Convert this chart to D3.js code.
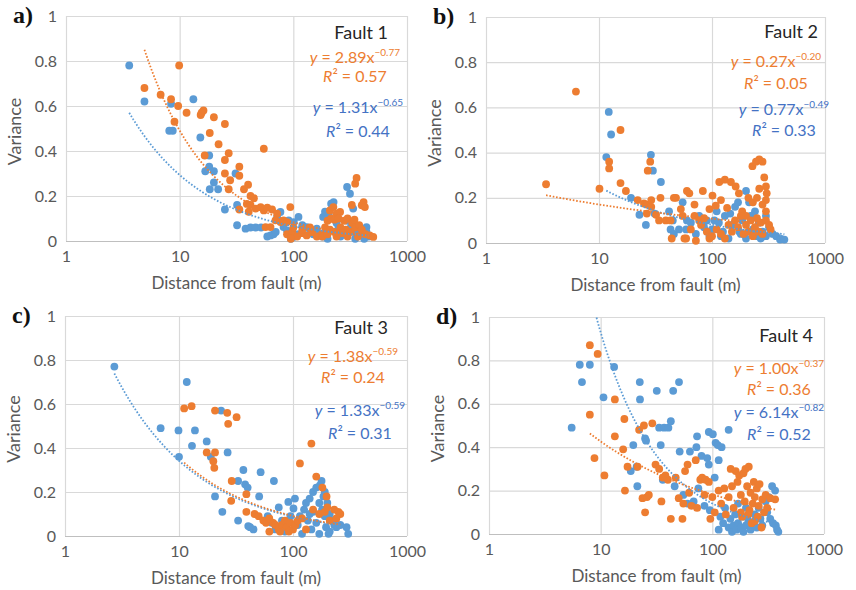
<!DOCTYPE html>
<html>
<head>
<meta charset="utf-8">
<script src="https://cdn.jsdelivr.net/npm/d3@7"></script>
<style>
  body { margin: 0; background: #fff; }
  text { font-family: Lato, "Open Sans", sans-serif; }
</style>
</head>
<body>
<div id="chart"></div>
<script>
// ---- data: [distance (m), variance] ----
var fault1Blue = [[3.6,.78],[4.9,.62],[8.4,.61],[8.1,.49],[8.7,.49],[13.2,.63],[15.2,.46],[18.2,.38],[18.2,.33],[16.8,.31],[20,.31],[20,.26],[18.4,.23],[21.8,.23],[31,.30],[25,.14],[32,.16],[32,.07],[38,.055],[42,.06],[46.6,.06],[52,.06],[59,.02],[63,.025],[67,.03],[70,.04],[72,.107],[77,.129],[82,.062],[88,.047],[91,.092],[100,.018],[101,.084],[111,.107],[120,.07],[131,.062],[150,.03],[161,.055],[172,.03],[183,.107],[190,.13],[205,.12],[215,.166],[226,.173],[235,.04],[250,.06],[260,.02],[280,.03],[297,.24],[315,.21],[336,.144],[350,.01],[380,.05],[400,.03],[440,.062],[440,.04],[460,.02],[200,.01],[240,.08],[300,.09],[320,.06],[140,.05],[110,.03],[95,.01],[180,.02],[270,.05],[360,.03],[420,.01]];
var fault1Orange = [[4.9,.68],[6.8,.65],[8.4,.63],[9.0,.53],[9.7,.60],[9.9,.78],[11.5,.57],[15.3,.56],[15.6,.57],[16.2,.58],[20,.55],[18.4,.48],[22,.43],[25,.52],[16.6,.38],[27,.39],[25,.36],[25,.30],[27.8,.27],[27,.23],[33.5,.33],[33.5,.29],[40,.25],[36.8,.23],[42,.20],[45,.19],[39,.165],[33.5,.14],[40.5,.13],[55,.41],[42,.16],[46.6,.144],[51.6,.15],[55,.136],[59,.148],[65,.14],[72,.122],[94,.151],[69.6,.092],[77,.084],[82,.092],[88,.084],[57,.062],[63,.062],[88,.03],[98,.04],[108,.02],[119,.035],[131,.025],[146,.04],[161,.02],[178,.03],[210,.136],[225,.151],[240,.122],[258,.129],[200,.09],[215,.1],[230,.095],[250,.1],[280,.09],[300,.1],[330,.08],[345,.095],[415,.173],[400,.159],[426,.151],[360,.28],[350,.255],[327,.16],[470,.025],[505,.018],[190,.06],[210,.05],[230,.04],[260,.06],[290,.05],[320,.04],[350,.06],[380,.07],[400,.05],[430,.03],[180,.02],[240,.02],[300,.02],[370,.02],[200,.03],[270,.035],[100,.06],[120,.05],[140,.06],[95,.01]];

var fault2Blue = [[11.6,.38],[12.2,.58],[12.8,.48],[19.2,.20],[22.8,.125],[26,.08],[28.8,.39],[30,.32],[31,.13],[35.3,.27],[41.7,.14],[43,.06],[45,.10],[46,.04],[51,.06],[55,.18],[59,.06],[65,.09],[72,.04],[77,.12],[85,.07],[90,.10],[95,.03],[100,.06],[110,.14],[115,.09],[125,.05],[130,.12],[140,.02],[150,.08],[160,.16],[170,.18],[175,.05],[185,.10],[200,.23],[200,.02],[213,.18],[220,.12],[230,.06],[250,.03],[260,.09],[280,.05],[300,.12],[320,.07],[344,.04],[370,.03],[400,.015],[410,.018],[437,.015],[120,.03],[180,.04],[240,.14],[270,.02],[300,.03],[105,.1],[145,.13],[60,.1]];
var fault2Orange = [[3.4,.26],[6.25,.67],[10.1,.24],[12.3,.36],[12.3,.33],[15.5,.50],[15.5,.265],[17.3,.23],[22,.19],[25,.175],[26.5,.17],[26.5,.13],[27,.32],[28.4,.36],[29,.19],[29,.16],[32,.125],[34,.10],[35,.2],[39,.10],[43,.10],[44,.02],[46,.2],[48,.2],[53,.15],[55,.12],[57,.02],[59,.02],[60,.23],[63,.22],[70,.17],[72,.01],[77,.1],[83,.23],[95,.15],[95,.02],[101,.21],[108,.165],[116,.27],[120,.19],[130,.28],[136,.155],[147,.27],[162,.25],[173,.22],[185,.14],[200,.12],[228,.34],[245,.36],[262,.37],[280,.36],[262,.24],[290,.29],[300,.25],[300,.19],[305,.22],[300,.14],[80,.08],[90,.05],[100,.03],[110,.06],[120,.04],[130,.02],[140,.08],[150,.05],[160,.1],[170,.07],[180,.12],[190,.04],[200,.08],[210,.05],[220,.1],[230,.03],[240,.07],[250,.11],[260,.05],[270,.09],[280,.04],[300,.1],[320,.08],[330,.06],[70,.12],[65,.06],[85,.11],[210,.2],[230,.18],[250,.2],[280,.17]];

var fault3Blue = [[2.71,.77],[6.9,.49],[9.9,.48],[10,.36],[11.7,.70],[13,.41],[13.8,.48],[17.5,.43],[19,.36],[20.7,.18],[23.4,.57],[24,.11],[26.7,.38],[33,.07],[33,.25],[36.7,.30],[38,.235],[40,.22],[40.5,.045],[42,.04],[45,.03],[50.5,.18],[52,.29],[60,.09],[65,.06],[68,.25],[70,.03],[75,.13],[80,.07],[85,.02],[91,.155],[95,.09],[101,.125],[104,.17],[110,.05],[115,.09],[120,.01],[125,.12],[130,.15],[135,.07],[140,.17],[145,.03],[150,.2],[150,.11],[160,.22],[160,.06],[172,.23],[178,.25],[170,.01],[180,.12],[185,.18],[190,.09],[195,.04],[200,.15],[205,.01],[210,.1],[220,.07],[230,.05],[240,.04],[260,.05],[295,.04],[305,.01],[170,.15],[190,.2],[140,.1],[210,.02]];
var fault3Orange = [[11.1,.58],[12.9,.59],[17.5,.38],[20,.34],[20.4,.31],[20.7,.57],[20.7,.38],[26.5,.56],[27,.51],[28.7,.16],[29,.25],[32,.54],[39,.19],[39,.11],[46,.10],[50,.09],[55,.07],[58,.06],[62,.02],[62,.08],[67,.06],[70,.05],[75,.03],[77,.02],[80,.05],[85,.07],[88,.04],[92,.02],[95,.06],[100,.03],[105,.05],[110,.07],[115,.33],[120,.08],[130,.03],[145,.42],[150,.12],[160,.27],[170,.1],[181,.22],[190,.11],[197,.18],[200,.13],[210,.07],[230,.12],[250,.11],[260,.10],[240,.08]];

var fault4Blue = [[5.5,.49],[6.5,.78],[8.0,.78],[6.8,.70],[10.6,.63],[13.2,.77],[18.6,.29],[19.6,.41],[21,.31],[21.3,.22],[22.4,.70],[22.5,.62],[25,.44],[25.5,.43],[31.8,.66],[33.4,.49],[34.5,.41],[36,.25],[37,.49],[40.4,.49],[42.5,.52],[44.6,.66],[46,.22],[50.3,.70],[51,.38],[55,.18],[60,.14],[63,.38],[68,.15],[72,.40],[73,.45],[75,.21],[80,.36],[85,.13],[90,.35],[93,.32],[93,.47],[95,.11],[101,.46],[105,.26],[107,.42],[112,.41],[114,.34],[114,.02],[118,.08],[121,.40],[125,.05],[130,.12],[140,.48],[140,.03],[145,.07],[150,.01],[155,.04],[160,.09],[165,.02],[170,.05],[180,.03],[185,.08],[190,.01],[200,.04],[210,.06],[220,.02],[230,.05],[240,.09],[250,.03],[260,.12],[270,.07],[280,.04],[300,.15],[310,.1],[330,.07],[343,.22],[350,.05],[365,.20],[370,.04],[380,.02],[390,.01],[170,.14],[200,.12],[320,.17]];
var fault4Orange = [[8.0,.87],[9.4,.83],[8.0,.55],[8.8,.35],[10.8,.27],[13.4,.62],[13.4,.45],[15.9,.39],[16.3,.53],[16.5,.20],[17.4,.31],[21.4,.31],[22.1,.48],[23.7,.165],[24.4,.50],[25,.10],[26,.17],[27,.18],[29,.51],[31,.32],[33.4,.30],[35,.15],[36,.26],[38,.27],[40,.25],[42.5,.07],[47,.26],[50,.165],[54,.07],[55,.14],[57,.29],[60,.32],[62,.19],[65,.13],[71,.34],[73,.12],[78,.25],[81,.26],[85,.18],[87,.25],[93,.24],[96,.07],[100,.17],[105,.1],[114,.2],[120,.14],[128,.21],[132,.09],[140,.17],[146,.30],[150,.22],[155,.12],[162,.29],[168,.24],[174,.27],[180,.18],[185,.08],[190,.28],[195,.15],[198,.30],[205,.22],[212,.31],[215,.11],[220,.19],[225,.05],[230,.14],[235,.24],[240,.17],[250,.21],[255,.08],[260,.13],[265,.23],[276,.03],[280,.16],[290,.1],[300,.18],[310,.12],[330,.165],[365,.16],[210,.09],[240,.06],[180,.1]];

// power-law fits printed on each panel: y = a * x^b
var orangeCoef = [2.89, 0.27, 1.38, 1.00];
var orangeExp  = [-0.77, -0.20, -0.59, -0.37];
var orangeR2   = [0.57, 0.05, 0.24, 0.36];
var blueCoef   = [1.31, 0.77, 1.33, 6.14];
var blueExp    = [-0.65, -0.49, -0.59, -0.82];
var blueR2     = [0.44, 0.33, 0.31, 0.52];

var panelLetters = ["a)", "b)", "c)", "d)"];
var faultNames = ["Fault 1", "Fault 2", "Fault 3", "Fault 4"];
var blueSeries = [fault1Blue, fault2Blue, fault3Blue, fault4Blue];
var orangeSeries = [fault1Orange, fault2Orange, fault3Orange, fault4Orange];
var xTicks = [1, 10, 100, 1000];
var yTicks = [0, 0.2, 0.4, 0.6, 0.8, 1];

// ---- layout ----
var blue = "#5B9BD5", orange = "#ED7D31", blueText = "#4472C4";
var panels = [
  {left: 66,  top: 16,  w: 341, h: 225, faultX: 19, faultY: 23, oX: 7, oY: 47, oR: 66, bX: 4, bY: 97, bR: 121},
  {left: 486, top: 17,  w: 339, h: 226, faultX: 7,  faultY: 21, oX: 4, oY: 50, oR: 72, bX: -4, bY: 98, bR: 119},
  {left: 65,  top: 316, w: 342, h: 220, faultX: 19, faultY: 18, oX: 9, oY: 46, oR: 67, bX: 2, bY: 100, bR: 123},
  {left: 489, top: 317, w: 335, h: 217, faultX: 11, faultY: 25, oX: 0, oY: 57, oR: 78, bX: 0, bY: 101, bR: 123}
];

var svg = d3.select("#chart").append("svg")
    .attr("width", 856)
    .attr("height", 590)
    .style("background-color", "white");

var f2 = d3.format(".2f");

panels.forEach(function(p, i) {
  var g = svg.append("g").attr("transform", "translate(" + p.left + "," + p.top + ")");

  var x = d3.scaleLog().domain([1, 1000]).range([0, p.w]);
  var y = d3.scaleLinear().domain([0, 1]).range([p.h, 0]);

  // grid + tick labels through the axes
  var xAxis = g.append("g")
      .attr("transform", "translate(0," + p.h + ")")
      .call(d3.axisBottom(x).tickValues(xTicks).tickSize(-p.h).tickPadding(10).tickFormat(d3.format("d")));
  var yAxis = g.append("g")
      .call(d3.axisLeft(y).tickValues(yTicks).tickSize(-p.w).tickPadding(9).tickFormat(function(d) { return String(d); }));

  [xAxis, yAxis].forEach(function(a) {
    a.select(".domain").remove();
    a.selectAll("line").attr("stroke", "#d9d9d9").attr("stroke-width", 1.2);
    a.selectAll("text").attr("fill", "#595959").style("font-size", "16px")
      .style("font-family", "Lato, 'Open Sans', sans-serif");
  });
  yAxis.selectAll("line").filter(function(d) { return d === 0; }).attr("stroke", "#bfbfbf");

  // axis titles
  g.append("text")
      .attr("x", p.w / 2).attr("y", p.h + 48)
      .attr("text-anchor", "middle")
      .attr("fill", "#595959").style("font-size", "17px")
      .text("Distance from fault (m)");
  g.append("text")
      .attr("transform", "translate(-45," + (p.h / 2 + 3) + ") rotate(-90)")
      .attr("text-anchor", "middle")
      .attr("fill", "#595959").style("font-size", "18px")
      .text("Variance");

  // panel letter
  g.append("text")
      .attr("x", -53).attr("y", 7)
      .style("font-family", "'Liberation Serif', 'DejaVu Serif', serif")
      .style("font-weight", "bold").style("font-size", "24px")
      .attr("fill", "#111")
      .text(panelLetters[i]);

  // points
  g.append("g").selectAll("circle")
    .data(blueSeries[i])
    .enter().append("circle")
      .attr("cx", function(d) { return x(d[0]); })
      .attr("cy", function(d) { return y(d[1]); })
      .attr("r", 3.9)
      .attr("fill", blue);
  g.append("g").selectAll("circle")
    .data(orangeSeries[i])
    .enter().append("circle")
      .attr("cx", function(d) { return x(d[0]); })
      .attr("cy", function(d) { return y(d[1]); })
      .attr("r", 3.9)
      .attr("fill", orange);

  // dotted power trend lines over each series' distance range
  g.append("clipPath").attr("id", "clip" + i)
    .append("rect").attr("width", p.w).attr("height", p.h);
  var line = d3.line()
      .x(function(d) { return x(d[0]); })
      .y(function(d) { return y(d[1]); });
  function trend(data, a, b) {
    var ext = d3.extent(data, function(d) { return d[0]; });
    return d3.range(0, 61).map(function(k) {
      var xv = ext[0] * Math.pow(ext[1] / ext[0], k / 60);
      return [xv, a * Math.pow(xv, b)];
    });
  }
  g.append("path")
      .datum(trend(blueSeries[i], blueCoef[i], blueExp[i]))
      .attr("clip-path", "url(#clip" + i + ")")
      .attr("d", line)
      .attr("fill", "none").attr("stroke", blue)
      .attr("stroke-width", 1.8).attr("stroke-dasharray", "1.6,1.8");
  g.append("path")
      .datum(trend(orangeSeries[i], orangeCoef[i], orangeExp[i]))
      .attr("clip-path", "url(#clip" + i + ")")
      .attr("d", line)
      .attr("fill", "none").attr("stroke", orange)
      .attr("stroke-width", 1.8).attr("stroke-dasharray", "1.6,1.8");

  // fault name
  g.append("text")
      .attr("x", p.w - p.faultX).attr("y", p.faultY)
      .attr("text-anchor", "end")
      .attr("fill", "#262626").style("font-size", "18px")
      .text(faultNames[i]);

  // equations
  function equation(a, b, r2, color, xr, yEq, yR) {
    var eq = g.append("text")
        .attr("x", p.w - xr).attr("y", yEq)
        .attr("text-anchor", "end")
        .attr("fill", color).style("font-size", "16px");
    eq.append("tspan").style("font-style", "italic").text("y");
    eq.append("tspan").text(" = " + f2(a) + "x");
    eq.append("tspan").attr("dy", -7).style("font-size", "10px").text("\u2212" + f2(Math.abs(b)));
    var bb = eq.node().getBBox();
    var r = g.append("text")
        .attr("x", bb.x + bb.width / 2).attr("y", yR)
        .attr("text-anchor", "middle")
        .attr("fill", color).style("font-size", "16px");
    r.append("tspan").style("font-style", "italic").text("R");
    r.append("tspan").text("\u00b2 = " + f2(r2));
  }
  equation(orangeCoef[i], orangeExp[i], orangeR2[i], orange, p.oX, p.oY, p.oR);
  equation(blueCoef[i], blueExp[i], blueR2[i], blueText, p.bX, p.bY, p.bR);
});
</script>
</body>
</html>
